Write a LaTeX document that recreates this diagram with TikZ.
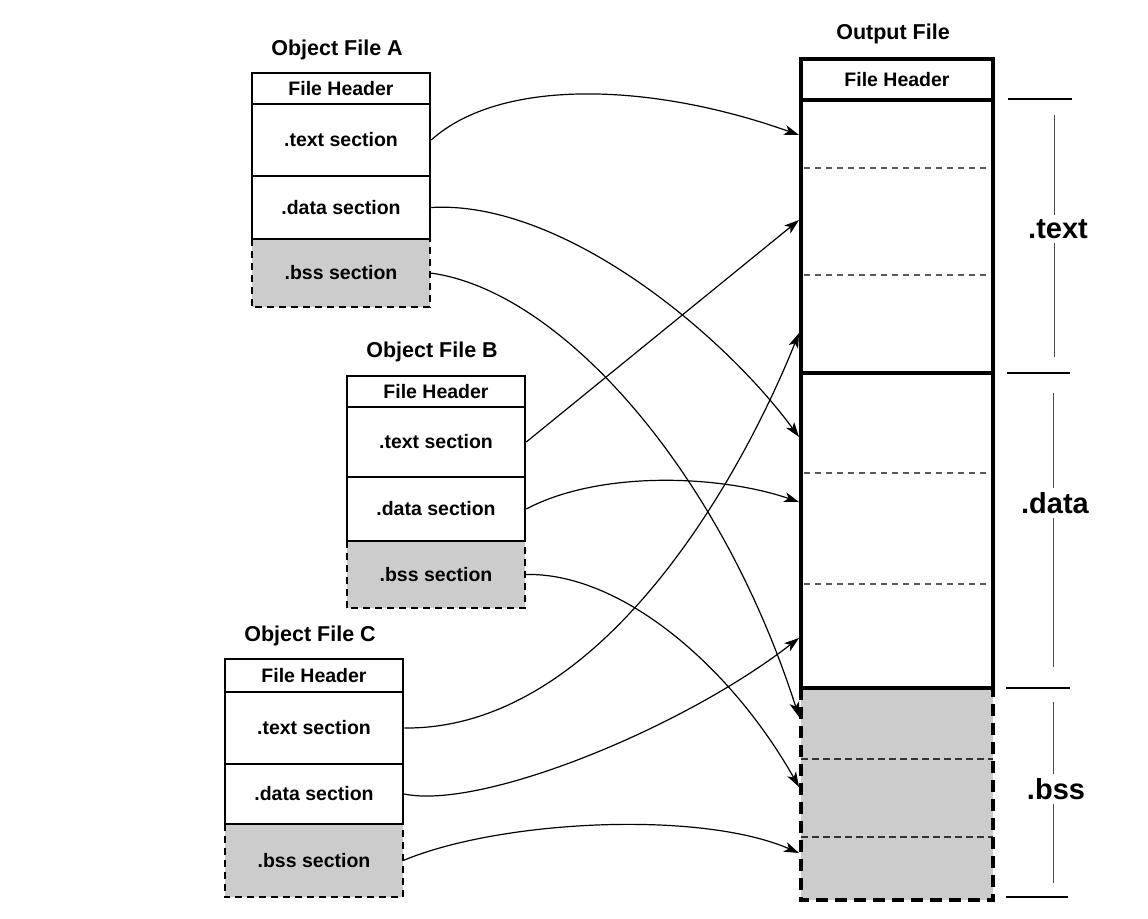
\documentclass[tikz,border=0pt]{standalone}
\usepackage{fontspec}
\newfontfamily\lsans{Liberation Sans}
\usetikzlibrary{arrows.meta}
\begin{document}
\begin{tikzpicture}[x=1pt,y=-1pt,
  sec/.style={draw, line width=2.5pt, minimum width=178pt, inner sep=0pt,
    font=\lsans\bfseries\fontsize{19.5}{20}\selectfont},
  bssfill/.style={fill=black!20, draw=none, minimum width=178pt, inner sep=0pt,
    font=\lsans\bfseries\fontsize{19.5}{20}\selectfont},
  bssborder/.style={line width=2.5pt, dash pattern=on 7pt off 5pt},
  title/.style={font=\lsans\bfseries\fontsize{21.5}{22}\selectfont},
  outsec/.style={draw, line width=3.5pt, minimum width=192pt, inner sep=0pt,
    font=\lsans\bfseries\fontsize{19.5}{20}\selectfont},
  thindash/.style={line width=1.1pt, black!65, dash pattern=on 6pt off 5pt},
  bssdash/.style={line width=2pt, black!80, dash pattern=on 7pt off 4pt},
  link/.style={line width=1.2pt, -{Stealth[length=15pt,width=10pt,inset=4pt]}},
  big/.style={font=\lsans\bfseries\fontsize{29}{31}\selectfont, fill=white, inner sep=4pt},
  tick/.style={line width=2pt},
  vline/.style={line width=1pt, black!70}
]
\useasboundingbox[fill=white] (0,0) rectangle (1148,918);

% ---------- Object File A ----------
\node[title] (titA) at (337,50) {Object File A};
\node[bssfill, minimum height=68pt] (abss) at (341,273) {.bss section};
\draw[bssborder] (abss.north west) -- (abss.south west) -- (abss.south east) -- (abss.north east);
\node[sec, minimum height=31pt] (ahdr) at (341,88.5) {File Header};
\node[sec, minimum height=72pt] (atext) at (341,140) {.text section};
\node[sec, minimum height=63pt] (adata) at (341,207.5) {.data section};

% ---------- Object File B ----------
\node[title] (titB) at (432,352) {Object File B};
\node[bssfill, minimum height=67pt] (bbss) at (436,574.5) {.bss section};
\draw[bssborder] (bbss.north west) -- (bbss.south west) -- (bbss.south east) -- (bbss.north east);
\node[sec, minimum height=31pt] (bhdr) at (436,391.5) {File Header};
\node[sec, minimum height=70pt] (btext) at (436,442) {.text section};
\node[sec, minimum height=64pt] (bdata) at (436,509) {.data section};

% ---------- Object File C ----------
\node[title] (titC) at (310,636) {Object File C};
\node[bssfill, minimum height=73pt] (cbss) at (314,860.5) {.bss section};
\draw[bssborder] (cbss.north west) -- (cbss.south west) -- (cbss.south east) -- (cbss.north east);
\node[sec, minimum height=33pt] (chdr) at (314,675.5) {File Header};
\node[sec, minimum height=72pt] (ctext) at (314,728) {.text section};
\node[sec, minimum height=60pt] (cdata) at (314,794) {.data section};

% ---------- Output File ----------
\node[title] (titO) at (893,34) {Output File};
\node[fill=black!20, minimum width=192pt, minimum height=212pt, inner sep=0pt] (obss) at (897,794) {};
\draw[bssdash] (801,759) -- (993,759);
\draw[bssdash] (801,837) -- (993,837);
\draw[line width=3.5pt, dash pattern=on 12pt off 7pt] (obss.north west) -- (obss.south west) -- (obss.south east) -- (obss.north east);
\node[outsec, minimum height=41pt] (ohdr) at (897,79.5) {File Header};
\node[outsec, minimum height=273pt] (otext) at (897,236.5) {};
\node[outsec, minimum height=315pt] (odata) at (897,530.5) {};
\draw[thindash] (804,168) -- (991,168);
\draw[thindash] (804,275) -- (991,275);
\draw[thindash] (804,473) -- (991,473);
\draw[thindash] (804,584) -- (991,584);

% ---------- brackets ----------
\draw[tick] (1008,99) -- (1072,99);
\draw[tick] (1007,373) -- (1070,373);
\draw[tick] (1006,688) -- (1070,688);
\draw[tick] (1006,897) -- (1068,897);
\draw[vline] (1054,115) -- (1054,357);
\draw[vline] (1053,393) -- (1053,667);
\draw[vline] (1053,702) -- (1053,883);
\node[big] (ltext) at (1058,229) {.text};
\node[big] (ldata) at (1055,503) {.data};
\node[big] (lbss) at (1056,789) {.bss};

% ---------- arrow targets ----------
\coordinate (t1) at (799,135);
\coordinate (t2) at (799,220);
\coordinate (t3) at (799,333);
\coordinate (d1) at (799,437);
\coordinate (d2) at (799,502);
\coordinate (d3) at (799,638);
\coordinate (b1) at (799,717);
\coordinate (b2) at (799,787);
\coordinate (b3) at (799,853);

% ---------- connectors ----------
\draw[link] (atext.east) .. controls (500,78) and (650,82) .. (t1);
\draw[link] (btext.east) -- (t2);
\draw[link] (ctext.east) .. controls (600,730) and (740,480) .. (t3);
\draw[link] (adata.east) .. controls (560,200) and (720,330) .. (d1);
\draw[link] (bdata.east) .. controls (600,470) and (720,475) .. (d2);
\draw[link] (cdata.east) .. controls (480,810) and (680,730) .. (d3);
\draw[link] (abss.east) .. controls (560,290) and (720,470) .. (b1);
\draw[link] (bbss.east) .. controls (620,572) and (730,665) .. (b2);
\draw[link] (cbss.east) .. controls (500,820) and (700,810) .. (b3);
\end{tikzpicture}
\end{document}
